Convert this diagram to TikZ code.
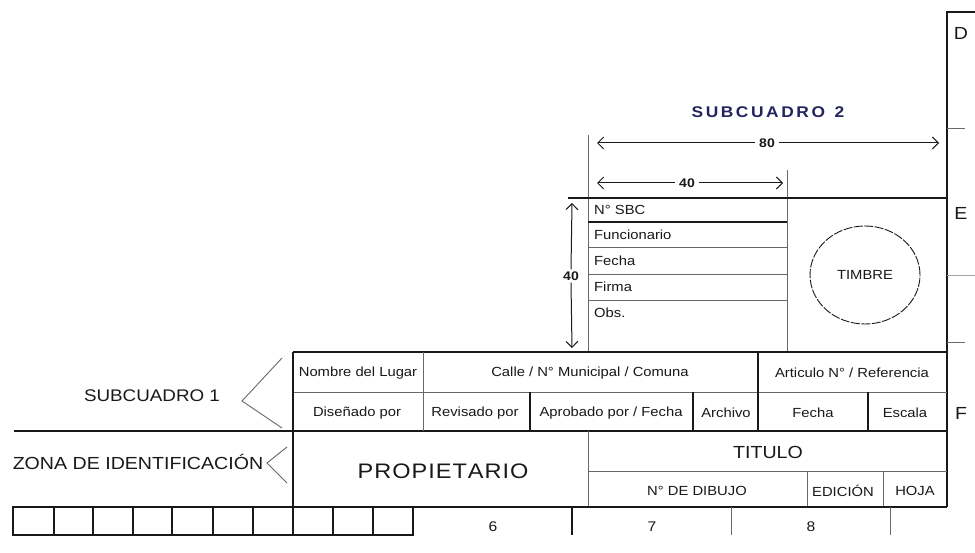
\documentclass[tikz,border=0pt]{standalone}
\usepackage{fontspec}
\setmainfont{Liberation Sans}[FakeStretch=1.12]
\usetikzlibrary{arrows.meta,shapes.geometric}
\definecolor{ink}{RGB}{25,25,25}
\definecolor{thin}{RGB}{105,105,105}
\definecolor{faint}{RGB}{165,165,165}
\definecolor{navy}{RGB}{35,35,95}
\begin{document}
\begin{tikzpicture}[x=1pt,y=-1pt,
  heavy/.style={draw=ink,line width=1.6pt},
  medium/.style={draw=ink,line width=1.1pt},
  light/.style={draw=thin,line width=0.9pt},
  lbl/.style={font=\fontsize{13.2}{14}\selectfont,text=ink,inner sep=0pt},
  lbll/.style={lbl,anchor=west},
  mid/.style={font=\fontsize{17.5}{19}\selectfont,text=ink,inner sep=0pt},
  dimlbl/.style={font=\bfseries\fontsize{12.5}{13}\selectfont,text=ink,inner sep=4pt},
  dimarrow/.style={draw=ink,line width=1pt,-{Straight Barb[length=6pt,width=12pt]}},
]
\useasboundingbox[fill=white] (0,0) rectangle (975,553);

% right border and zone letters
\coordinate (rbt) at (947,12);
\coordinate (rbb) at (947,507);
\coordinate (rbtr) at (975,12);
\draw[heavy] (rbtr) -- (rbt) -- (rbb);
\draw[light] (947,128) -- (965,128);
\draw[draw=faint,line width=0.9pt] (947,275) -- (975,275);
\draw[light] (947,342) -- (965,342);
\node[mid] (zD) at (961,33) {D};
\node[mid] (zE) at (961,213) {E};
\node[mid] (zF) at (961,413) {F};

% subcuadro 2
\node[font=\bfseries\fontsize{15.5}{17}\selectfont,text=navy,inner sep=0pt] (sc2) at (768,112) {S\,U\,B\,C\,U\,A\,D\,R\,O\ \ 2};
\draw[light] (588,135) -- (588,352);
\draw[light] (787,170) -- (787,352);
\draw[heavy] (568,198) -- (947,198);

\node[dimlbl] (n80) at (767,143) {80};
\coordinate (a80l) at (597,143);
\coordinate (a80r) at (939,143);
\draw[dimarrow] (n80.west) -- (a80l);
\draw[dimarrow] (n80.east) -- (a80r);

\node[dimlbl] (n40) at (687,183) {40};
\coordinate (a40l) at (597,183);
\coordinate (a40r) at (783,183);
\draw[dimarrow] (n40.west) -- (a40l);
\draw[dimarrow] (n40.east) -- (a40r);

\node[dimlbl,inner sep=2pt] (n40v) at (571,276) {40};
\coordinate (v40t) at (572,203);
\coordinate (v40b) at (572,348);
\draw[dimarrow] (n40v.north) -- (v40t);
\draw[dimarrow] (n40v.south) -- (v40b);

\draw[medium] (588,222) -- (787,222);
\draw[light] (588,247) -- (787,247);
\draw[light] (588,274) -- (787,274);
\draw[light] (588,300) -- (787,300);
\node[lbll] (sbc) at (594,210) {N° SBC};
\node[lbll] (func) at (594,235) {Funcionario};
\node[lbll] (fecha2) at (594,261) {Fecha};
\node[lbll] (firma) at (594,287) {Firma};
\node[lbll] (obs) at (594,313) {Obs.};

\node[ellipse,draw=ink,line width=0.9pt,dash pattern=on 9pt off 1.5pt,
  minimum width=110pt,minimum height=98pt,lbl] (timbre) at (865,275) {TIMBRE};

% subcuadro 1
\draw[heavy] (293,352) -- (947,352);
\draw[light] (293,392) -- (947,392);
\draw[heavy] (14,431) -- (947,431);
\draw[medium] (293,352) -- (293,535);
\draw[light] (423,352) -- (423,431);
\draw[medium] (758,352) -- (758,431);
\draw[medium] (530,392) -- (530,431);
\draw[medium] (693,392) -- (693,431);
\draw[medium] (868,392) -- (868,431);

\node[lbl] (lugar) at (358,373) {Nombre del Lugar};
\node[lbl] (calle) at (590,373) {Calle / N° Municipal / Comuna};
\node[lbl] (art) at (852,373) {Articulo N° / Referencia};
\node[lbl] (dis) at (357,413) {Diseñado por};
\node[lbl] (rev) at (475,413) {Revisado por};
\node[lbl] (apr) at (611,413) {Aprobado por / Fecha};
\node[lbl] (arch) at (726,413) {Archivo};
\node[lbl] (fecha1) at (813,413) {Fecha};
\node[lbl] (esc) at (905,413) {Escala};

\node[font=\fontsize{16.8}{18}\selectfont,text=ink,inner sep=0pt] (sc1) at (152,396) {SUBCUADRO 1};
\draw[light] (282,358) -- (242,401) -- (282,428);

% identification zone
\node[mid] (zona) at (138,462) {ZONA DE IDENTIFICACIÓN};
\draw[light] (287,447) -- (267,463) -- (287,483);
\node[font=\fontsize{21}{23}\selectfont,text=ink,inner sep=0pt] (prop) at (443,471) {P\kern1ptR\kern1ptO\kern1ptP\kern1ptI\kern1ptE\kern1ptT\kern1ptA\kern1ptR\kern1ptI\kern1ptO};

\draw[light] (588,431) -- (588,507);
\draw[light] (588,471) -- (947,471);
\draw[light] (807,471) -- (807,507);
\draw[light] (883,471) -- (883,507);
\node[mid] (titulo) at (768,452) {TITULO};
\node[lbl] (dib) at (697,491) {N° DE DIBUJO};
\node[lbl] (edi) at (843,491) {EDICIÓN};
\node[lbl] (hoja) at (915,491) {HOJA};

\draw[heavy] (14,507) -- (947,507);

% cells
\draw[medium] (13,507) rectangle (413,535);
\foreach \xx in {54,93,133,172,213,253,333,373} \draw[medium] (\xx,507) -- (\xx,535);

% zone numbers
\draw[heavy] (572,507) -- (572,535);
\draw[light] (731,507) -- (731,535);
\draw[light] (890,507) -- (890,535);
\node[font=\fontsize{14}{15}\selectfont,text=ink,inner sep=0pt] (z6) at (493,527) {6};
\node[font=\fontsize{14}{15}\selectfont,text=ink,inner sep=0pt] (z7) at (652,527) {7};
\node[font=\fontsize{14}{15}\selectfont,text=ink,inner sep=0pt] (z8) at (811,527) {8};
\end{tikzpicture}
\end{document}
